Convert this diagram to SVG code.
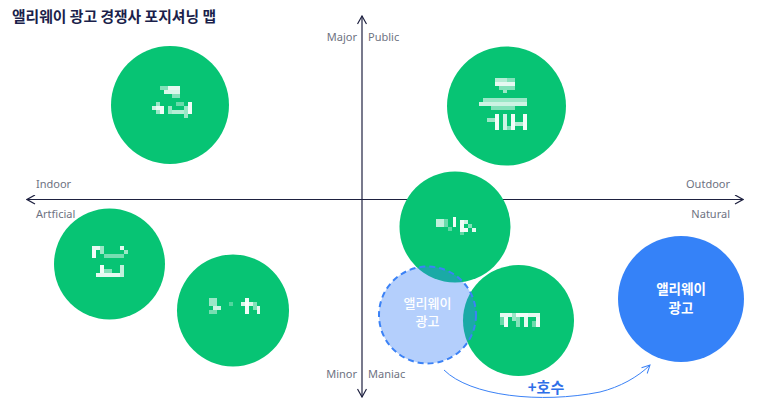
<svg xmlns="http://www.w3.org/2000/svg" width="771" height="410" viewBox="0 0 771 410">
<style>
.title{font-family:"Noto Sans CJK KR","Noto Sans",sans-serif;font-weight:700;font-size:14.8px;fill:#1b1f4b}
.ax{font-family:"Noto Sans","Liberation Sans",sans-serif;font-size:11px;fill:#6e7282}
.axis{stroke:#1e2140;stroke-width:1.2;fill:none}
.green{fill:#07c474}
.mz{fill:#ffffff}
.kl{font-family:"Noto Sans CJK KR",sans-serif;fill:#ffffff;text-anchor:middle}
</style>
<defs>
<marker id="chev" viewBox="0 0 10 10" refX="9" refY="5" markerWidth="10" markerHeight="10" markerUnits="userSpaceOnUse" orient="auto-start-reverse">
<path d="M1,0.5 L9,5 L1,9.5" fill="none" stroke="#1e2140" stroke-width="1.2"/>
</marker>
<marker id="bchev" viewBox="0 0 10 10" refX="9" refY="5" markerWidth="10" markerHeight="10" markerUnits="userSpaceOnUse" orient="auto">
<path d="M1,1 L9,5 L1,9" fill="none" stroke="#3b82f6" stroke-width="1"/>
</marker>
</defs>
<rect width="771" height="410" fill="#ffffff"/>
<text class="title" x="12" y="22">앨리웨이 광고 경쟁사 포지셔닝 맵</text>

<g id="connectors">
<line class="axis" x1="362" y1="16" x2="362" y2="397" marker-start="url(#chev)" marker-end="url(#chev)"/>
<line class="axis" x1="27" y1="199.5" x2="743" y2="199.5" marker-start="url(#chev)" marker-end="url(#chev)"/>
<path d="M444,370 C470,396 540,404 600,392 C620,387 638,377 650,365" fill="none" stroke="#3b82f6" stroke-width="1" marker-end="url(#bchev)"/>
</g>

<g id="axis-labels">
<text class="ax" x="357" y="41" text-anchor="end">Major</text>
<text class="ax" x="368" y="41">Public</text>
<text class="ax" x="357" y="378" text-anchor="end">Minor</text>
<text class="ax" x="368" y="378">Maniac</text>
<text class="ax" x="36" y="188">Indoor</text>
<text class="ax" x="36" y="218">Artficial</text>
<text class="ax" x="730" y="188" text-anchor="end">Outdoor</text>
<text class="ax" x="730" y="218" text-anchor="end">Natural</text>
</g>

<g id="comp1">
<circle class="green" cx="170" cy="105" r="59"/>
<rect class="mz" x="160" y="86" width="8" height="4" opacity="0.5"/>
<rect class="mz" x="164" y="90" width="16" height="4" opacity="0.85"/>
<rect class="mz" x="168" y="86" width="12" height="4" opacity="0.9"/>
<rect class="mz" x="172" y="94" width="8" height="4" opacity="0.5"/>
<rect class="mz" x="152" y="106" width="8" height="4" opacity="0.8"/>
<rect class="mz" x="156" y="102" width="4" height="12" opacity="0.6"/>
<rect class="mz" x="160" y="106" width="4" height="8" opacity="0.95"/>
<rect class="mz" x="168" y="106" width="4" height="8" opacity="0.6"/>
<rect class="mz" x="172" y="110" width="12" height="4" opacity="0.7"/>
<rect class="mz" x="176" y="102" width="8" height="4" opacity="0.4"/>
<rect class="mz" x="184" y="106" width="4" height="12" opacity="0.6"/>
<rect class="mz" x="188" y="102" width="4" height="12" opacity="0.95"/>
</g>

<g id="comp2">
<circle class="green" cx="506.5" cy="106" r="59.5"/>
<rect class="mz" x="495" y="78" width="12" height="4" opacity="0.7"/>
<rect class="mz" x="507" y="78" width="8" height="4" opacity="0.5"/>
<rect class="mz" x="495" y="82" width="20" height="4" opacity="0.9"/>
<rect class="mz" x="499" y="86" width="16" height="4" opacity="0.5"/>
<rect class="mz" x="503" y="90" width="4" height="3" opacity="0.6"/>
<rect class="mz" x="483" y="98" width="44" height="4" opacity="0.6"/>
<rect class="mz" x="479" y="102" width="48" height="4" opacity="0.8"/>
<rect class="mz" x="491" y="106" width="24" height="4" opacity="0.5"/>
<rect class="mz" x="487" y="118" width="8" height="4" opacity="0.6"/>
<rect class="mz" x="495" y="114" width="4" height="16" opacity="0.95"/>
<rect class="mz" x="503" y="114" width="4" height="16" opacity="0.8"/>
<rect class="mz" x="507" y="126" width="4" height="4" opacity="0.5"/>
<rect class="mz" x="511" y="114" width="4" height="16" opacity="0.95"/>
<rect class="mz" x="515" y="122" width="8" height="4" opacity="0.7"/>
<rect class="mz" x="523" y="114" width="4" height="16" opacity="0.95"/>
</g>

<g id="comp3">
<circle class="green" cx="455" cy="227" r="55.5"/>
<rect class="mz" x="436" y="219" width="8" height="8" opacity="0.75"/>
<rect class="mz" x="444" y="219" width="4" height="8" opacity="0.4"/>
<rect class="mz" x="448" y="227" width="4" height="4" opacity="0.35"/>
<rect class="mz" x="453" y="217" width="3" height="10" opacity="0.95"/>
<rect class="mz" x="460" y="220" width="4" height="12" opacity="0.95"/>
<rect class="mz" x="464" y="220" width="4" height="4" opacity="0.8"/>
<rect class="mz" x="464" y="228" width="4" height="4" opacity="0.95"/>
<rect class="mz" x="468" y="224" width="4" height="4" opacity="0.5"/>
<rect class="mz" x="472" y="228" width="4" height="4" opacity="0.9"/>
<rect class="mz" x="460" y="232" width="4" height="3" opacity="0.35"/>
</g>

<g id="comp4">
<circle class="green" cx="109.5" cy="264" r="55.5"/>
<rect class="mz" x="92" y="246" width="8" height="4" opacity="0.9"/>
<rect class="mz" x="92" y="250" width="4" height="8" opacity="0.95"/>
<rect class="mz" x="100" y="246" width="4" height="8" opacity="0.6"/>
<rect class="mz" x="104" y="254" width="20" height="4" opacity="0.45"/>
<rect class="mz" x="120" y="246" width="4" height="4" opacity="0.9"/>
<rect class="mz" x="124" y="250" width="4" height="4" opacity="0.6"/>
<rect class="mz" x="100" y="265" width="4" height="8" opacity="0.95"/>
<rect class="mz" x="96" y="273" width="24" height="4" opacity="0.9"/>
<rect class="mz" x="104" y="269" width="8" height="4" opacity="0.5"/>
<rect class="mz" x="120" y="265" width="4" height="12" opacity="0.75"/>
</g>

<g id="comp5">
<circle class="green" cx="233" cy="310.5" r="56"/>
<rect class="mz" x="209" y="298" width="8" height="8" opacity="0.6"/>
<rect class="mz" x="213" y="306" width="8" height="4" opacity="0.8"/>
<rect class="mz" x="209" y="310" width="8" height="4" opacity="0.45"/>
<rect class="mz" x="229" y="302" width="4" height="4" opacity="0.3"/>
<rect class="mz" x="241" y="302" width="12" height="4" opacity="0.85"/>
<rect class="mz" x="245" y="298" width="4" height="16" opacity="0.95"/>
<rect class="mz" x="253" y="302" width="4" height="8" opacity="0.5"/>
<rect class="mz" x="257" y="306" width="3" height="8" opacity="0.9"/>
</g>

<g id="comp6">
<circle class="green" cx="518.5" cy="320.5" r="55.5"/>
<rect class="mz" x="500" y="313" width="12" height="4" opacity="0.9"/>
<rect class="mz" x="504" y="317" width="4" height="10" opacity="0.95"/>
<rect class="mz" x="500" y="317" width="4" height="8" opacity="0.4"/>
<rect class="mz" x="512" y="313" width="4" height="8" opacity="0.6"/>
<rect class="mz" x="516" y="313" width="12" height="4" opacity="0.95"/>
<rect class="mz" x="516" y="317" width="4" height="10" opacity="0.5"/>
<rect class="mz" x="524" y="317" width="4" height="10" opacity="0.9"/>
<rect class="mz" x="528" y="313" width="12" height="4" opacity="0.9"/>
<rect class="mz" x="536" y="317" width="4" height="10" opacity="0.95"/>
<rect class="mz" x="532" y="321" width="4" height="6" opacity="0.4"/>
</g>

<g id="alleyway-current">
<circle cx="427.5" cy="315" r="48.5" fill="#3b82f6" fill-opacity="0.38" stroke="#3b82f6" stroke-width="2" stroke-dasharray="6 4"/>
<text class="kl" x="427.5" y="307.5" font-size="13" font-weight="500">앨리웨이</text>
<text class="kl" x="427.5" y="326" font-size="13" font-weight="500">광고</text>
</g>

<g id="alleyway-target">
<circle cx="681" cy="299" r="63" fill="#3582f8"/>
<text class="kl" x="681" y="293.5" font-size="13.5" font-weight="700">앨리웨이</text>
<text class="kl" x="681" y="313" font-size="13.5" font-weight="700">광고</text>
</g>

<text x="546" y="393" text-anchor="middle" font-family="Noto Sans CJK KR,sans-serif" font-size="15" font-weight="700" fill="#2f6fe8">+호수</text>
</svg>
